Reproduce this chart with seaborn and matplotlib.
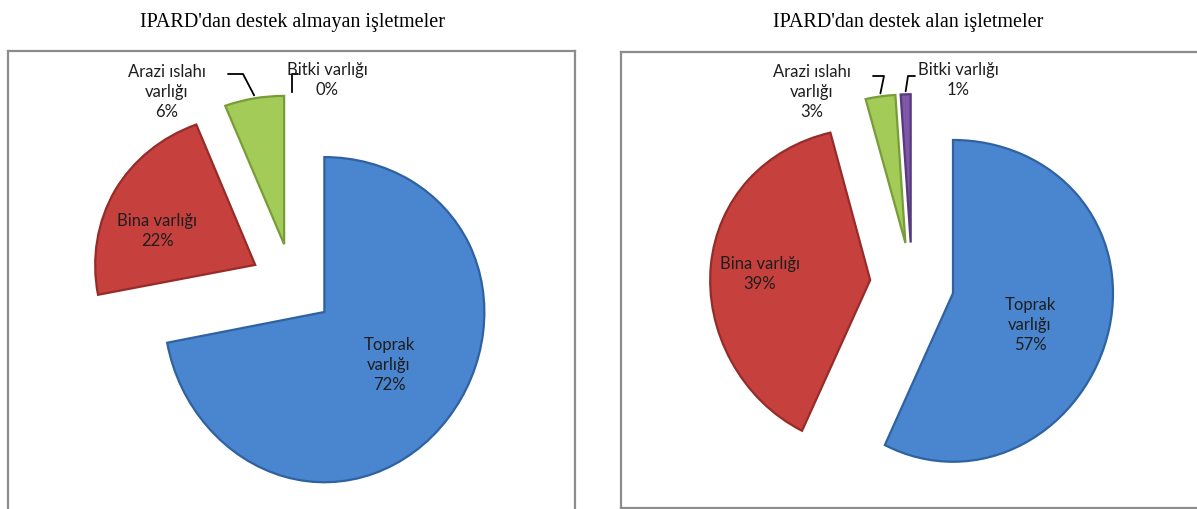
import numpy as np
import seaborn as sns
import matplotlib.pyplot as plt

# data
categories = ["Toprak\nvarlığı", "Bina varlığı", "Arazi ıslahı\nvarlığı", "Bitki varlığı"]
almayan = [72, 22, 6, 0]
alan = [57, 39, 3, 1]
titles = ["IPARD'dan destek almayan işletmeler", "IPARD'dan destek alan işletmeler"]

sns.set_theme(style="white")
plt.rcParams['font.family'] = ['Lato', 'DejaVu Sans']
colors = sns.color_palette(["#4A85CF", "#C6403D", "#A2CB58", "#7E57A8"])
edges = sns.color_palette(["#2F62A0", "#962C29", "#779C38", "#563A7E"])

W, H = 1197, 509
fig = plt.figure(figsize=(W / 100, H / 100), dpi=100)

# overlay in image pixel coords for labels / leader lines
ov = fig.add_axes([0, 0, 1, 1], zorder=5)
ov.set_xlim(0, W)
ov.set_ylim(H, 0)
ov.axis('off')

# panel layout in pixels: box (left, top, right, bottom), pie centre, label spots
panels = [
    dict(box=(8, 51, 575, 520), center=(292, 285), title_x=293,
         spots=[(389, 365), (157, 231), (167, 92), (327, 80)],
         leaders={2: (228, 243), 3: (298, 292)}, leader_y=74),
    dict(box=(621, 52, 1210, 508), center=(912, 284), title_x=908,
         spots=[(1030, 325), (760, 274), (812, 92), (958, 80)],
         leaders={2: (873, 884), 3: (915, 908)}, leader_y=76),
]
radius = 160
offset = 42   # explode distance in pixels
tilt = 0.0003  # slight perspective: upper half squeezed, lower half stretched

for vals, title, p in zip([almayan, alan], titles, panels):
    l, t, r, b = p['box']
    ax = fig.add_axes([l / W, (H - b) / H, (r - l) / W, (b - t) / H])
    cx, cy = p['center']
    yc = H - cy

    def fwd(y, yc=yc):
        d = np.asarray(y, dtype=float) - yc
        return yc + d - tilt * d ** 2

    def inv(s, yc=yc):
        s = np.asarray(s, dtype=float) - yc
        return yc + (1 - np.sqrt(np.maximum(1 - 4 * tilt * s, 1e-9))) / (2 * tilt)

    wedges, _ = ax.pie(vals, colors=colors, startangle=90, counterclock=False,
                       explode=[offset] * len(vals), radius=radius,
                       center=(cx, yc), frame=True,
                       wedgeprops=dict(linewidth=1.6))
    for w, v, ec in zip(wedges, vals, edges):
        w.set_edgecolor(ec)
        w.set_visible(v > 0)
    ax.set_yscale('function', functions=(fwd, inv))
    ax.set_aspect('auto')
    ax.set_xlim(l, r)
    ax.set_ylim(inv(H - b), inv(H - t))
    ax.set_xticks([])
    ax.set_yticks([])
    ax.minorticks_off()
    for s in ax.spines.values():
        s.set_color('#8c8c8c')
        s.set_linewidth(1.6)

    for i, (lab, v) in enumerate(zip(categories, vals)):
        sx, sy = p['spots'][i]
        ov.text(sx, sy, f"{lab}\n{v}%", ha='center', va='center',
                fontsize=12, color='#1e1e1e', linespacing=1.3)

    # leader lines from small slices to their labels
    for i, (x_text, x_elbow) in p['leaders'].items():
        w = wedges[i]
        mid = np.deg2rad((w.theta1 + w.theta2) / 2)
        ex = w.center[0] + w.r * np.cos(mid)
        ey = w.center[1] + w.r * np.sin(mid)
        px, py = ov.transData.inverted().transform(ax.transData.transform((ex, ey)))
        ov.plot([x_text, x_elbow, px], [p['leader_y'], p['leader_y'], py - 3],
                color='black', linewidth=1.3)

    fig.text(p['title_x'] / W, 1 - 23 / H, title, ha='center', va='center',
             fontsize=14.5, family='Liberation Serif', color='black')

fig.savefig('out.png', dpi=100)
